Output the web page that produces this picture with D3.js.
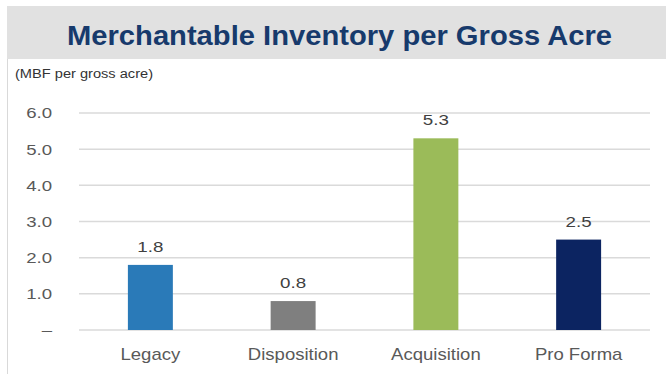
<!DOCTYPE html>
<html><head><meta charset="utf-8">
<script src="https://cdn.jsdelivr.net/npm/d3@7"></script>
<style>body{margin:0;background:#fff;}svg{display:block;font-family:"Liberation Sans",Arial,sans-serif;}</style>
</head><body>
<svg id="c" width="666" height="374"></svg>
<script>
const categories = ["Legacy", "Disposition", "Acquisition", "Pro Forma"];
const values = [1.8, 0.8, 5.3, 2.5];
const valueLabels = ["1.8", "0.8", "5.3", "2.5"];
const colors = ["#2a7ab8", "#7f7f7f", "#9bbb59", "#0c2461"];
const yTicks = [0, 1, 2, 3, 4, 5, 6];
const yTickLabels = ["–", "1.0", "2.0", "3.0", "4.0", "5.0", "6.0"];
const title = "Merchantable Inventory per Gross Acre";
const subtitle = "(MBF per gross acre)";

const svg = d3.select("#c");
function stretch(sel, k) {
  sel.each(function () {
    const w = this.getComputedTextLength();
    d3.select(this).attr("textLength", w * k).attr("lengthAdjust", "spacingAndGlyphs");
  });
}
// banner
svg.append("rect").attr("x", 7).attr("y", 6).attr("width", 659).attr("height", 53).attr("fill", "#e1e1e1");
svg.append("line").attr("x1", 7.5).attr("x2", 7.5).attr("y1", 59).attr("y2", 374).attr("stroke", "#d9d9d9").attr("stroke-width", 1);
svg.append("text").attr("x", 339.5).attr("y", 45).attr("text-anchor", "middle")
  .attr("font-size", 28).attr("font-weight", "bold").attr("fill", "#173a6c")
  .attr("textLength", 545).attr("lengthAdjust", "spacingAndGlyphs").text(title);
svg.append("text").attr("x", 15).attr("y", 78).attr("font-size", 12).attr("fill", "#333")
  .attr("textLength", 138).attr("lengthAdjust", "spacingAndGlyphs").text(subtitle);

const x = d3.scaleBand().domain(categories).range([79, 650]).paddingInner(0.685).paddingOuter(0.3425);
const y = d3.scaleLinear().domain([0, 6]).range([330, 113]);

const g = svg.append("g");
const yAxis = d3.axisLeft(y).tickValues(yTicks).tickFormat((d, i) => yTickLabels[i]).tickSize(0).tickPadding(0);
const ya = g.append("g").attr("transform", "translate(52,0)").call(yAxis);
ya.select(".domain").remove();
ya.selectAll("text").attr("font-size", 15.5).attr("fill", "#595959").attr("font-family", "Liberation Sans, Arial, sans-serif");
stretch(ya.selectAll("text"), 1.2);

g.append("g").selectAll("line").data(yTicks).join("line")
  .attr("x1", 79).attr("x2", 650).attr("y1", d => y(d)).attr("y2", d => y(d))
  .attr("stroke", "#dadada").attr("stroke-width", 1.5);

g.append("g").selectAll("rect").data(values).join("rect")
  .attr("x", (d, i) => x(categories[i])).attr("width", x.bandwidth())
  .attr("y", d => y(d)).attr("height", d => y(0) - y(d))
  .attr("fill", (d, i) => colors[i]);

const vl = g.append("g").selectAll("text").data(values).join("text")
  .attr("x", (d, i) => x(categories[i]) + x.bandwidth() / 2)
  .attr("y", d => y(d) - 13).attr("text-anchor", "middle")
  .attr("font-size", 15).attr("fill", "#404040").text((d, i) => valueLabels[i]);
stretch(vl, 1.25);

const xAxis = d3.axisBottom(x).tickSize(0).tickPadding(0);
const xa = g.append("g").attr("transform", "translate(0,360)").call(xAxis);
xa.select(".domain").remove();
xa.selectAll("text").attr("dy", 0).attr("font-size", 17).attr("fill", "#595959").attr("font-family", "Liberation Sans, Arial, sans-serif");
stretch(xa.selectAll("text"), 1.09);
</script>
</body></html>
